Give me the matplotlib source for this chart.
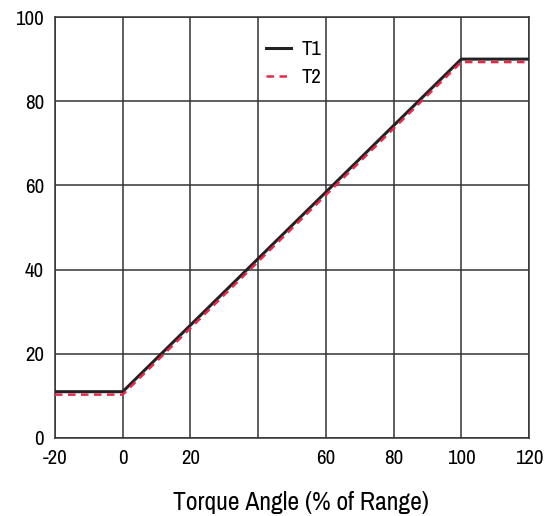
import matplotlib
matplotlib.use("Agg")
import matplotlib.pyplot as plt

plt.rcParams['font.family'] = ['Archivo Narrow', 'Roboto Condensed', 'DejaVu Sans']

t1_x = [-20, 0, 100, 120]
t1_y = [11, 11, 90, 90]
t2_x = [-20, 0, 100, 120]
t2_y = [10.3, 10.3, 89.3, 89.3]
xticks = [-20, 0, 20, 40, 60, 80, 100, 120]
xtick_labels = ['-20', '0', '20', '', '60', '80', '100', '120']
yticks = [0, 20, 40, 60, 80, 100]

fig = plt.figure(figsize=(5.5, 5.16), dpi=100)
ax = fig.add_axes([0.1, 0.1512, 0.8618, 0.8158])
ax.plot(t1_x, t1_y, color='#222222', lw=2.2, label='T1', zorder=3)
ax.plot(t2_x, t2_y, color='#e8294a', lw=1.8, ls=(0, (3, 2.2)), label='T2', zorder=4)
ax.set_xlim(-20, 120)
ax.set_ylim(0, 100)
ax.set_xticks(xticks)
ax.set_xticklabels(xtick_labels)
ax.set_yticks(yticks)
ax.grid(True, color='#333333', lw=1.1)
ax.tick_params(length=0, labelsize=15, pad=8)
for s in ax.spines.values():
    s.set_color('#333333')
    s.set_linewidth(1.1)
ax.set_xlabel('Torque Angle (% of Range)', fontsize=18.5)
ax.xaxis.set_label_coords(0.518, -0.125)
leg = ax.legend(loc='upper left', bbox_to_anchor=(0.405, 0.99), frameon=False,
                fontsize=15, handlelength=1.2, handletextpad=0.5, labelspacing=0.45)
fig.savefig('out.png', dpi=100)
